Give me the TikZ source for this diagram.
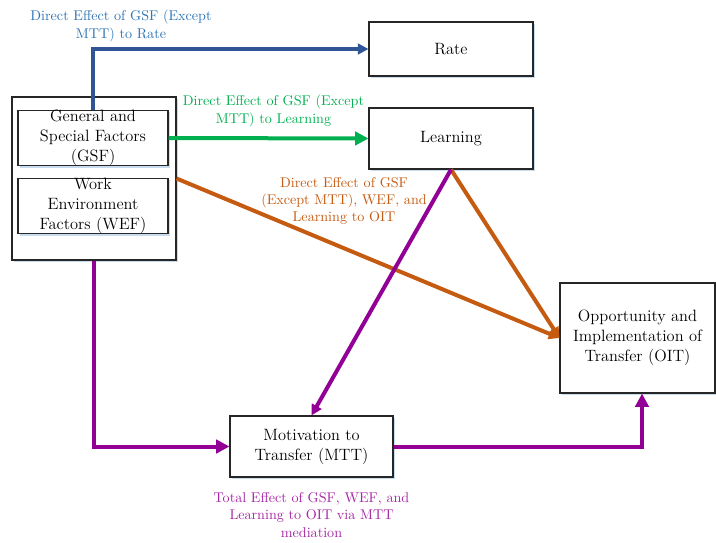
\documentclass[tikz,border=0pt]{standalone}
\usetikzlibrary{arrows.meta,shadows,calc}
\definecolor{rateline}{RGB}{47,85,151}
\definecolor{ratetext}{RGB}{46,116,181}
\definecolor{learngreen}{RGB}{0,176,80}
\definecolor{oitorange}{RGB}{197,90,17}
\definecolor{mttline}{RGB}{146,0,150}
\definecolor{mtttext}{RGB}{166,38,164}
\definecolor{shadowblue}{RGB}{200,220,240}
\begin{document}
\begin{tikzpicture}[x=0.75pt,y=-0.75pt,
  box/.style={draw=black!85,line width=0.8pt,fill=white,align=center,inner sep=0pt,
    font=\fontsize{12.3}{15}\selectfont,
    drop shadow={shadow xshift=1.2pt,shadow yshift=-1.5pt,fill=shadowblue,opacity=1}},
  effect/.style={align=center,font=\fontsize{10.6}{13}\selectfont},
  link/.style={line width=3pt},
  head/.style={-{Triangle[length=10pt,width=10pt]}},
  smallhead/.style={-{Triangle[length=8pt,width=8pt]}}]
\useasboundingbox (0,0) rectangle (716,542);

% factor boxes on the left
\node[box,minimum width=123pt,minimum height=122.25pt] (outer) at (94,178.5) {};
\node[box,minimum width=112.5pt,minimum height=40.5pt] (gsf) at (93,138)
  {General and\\Special Factors\\(GSF)};
\node[box,minimum width=112.5pt,minimum height=40.5pt] (wef) at (93,206)
  {Work\\Environment\\Factors (WEF)};

% outcome boxes
\node[box,minimum width=123pt,minimum height=40.5pt] (rate) at (451,49) {Rate};
\node[box,minimum width=123pt,minimum height=45.75pt] (learning) at (451,138.5) {Learning};
\node[box,minimum width=116.25pt,minimum height=82.5pt] (oit) at (637.5,338)
  {Opportunity and\\Implementation of\\Transfer (OIT)};
\node[box,minimum width=122.25pt,minimum height=45.75pt] (mtt) at (311.5,446.5)
  {Motivation to\\Transfer (MTT)};

\coordinate (oitin) at ($(oit.south)+(4.5,0)$);

% direct effects
\draw[link,rateline,line width=2.3pt,smallhead] (gsf.north) |- (rate.west);
\draw[link,learngreen,head] (gsf.east) -- (learning.west);
\draw[link,oitorange,smallhead] (outer.east) -- (oit.west);
\draw[link,oitorange,smallhead] (learning.south) -- (oit.west);

% mediated effects through MTT
\draw[link,mttline,head] (outer.south) |- (mtt.west);
\draw[link,mttline,smallhead] (learning.south) -- (mtt.north);
\draw[link,mttline,head] (mtt.east) -| (oitin);

% effect labels
\node[effect,text=ratetext] (lrate) at (121,26)
  {Direct Effect of GSF (Except\\MTT) to Rate};
\node[effect,text=learngreen] (llearn) at (273.5,111)
  {Direct Effect of GSF (Except\\MTT) to Learning};
\node[effect,text=oitorange] (loit) at (344,201)
  {Direct Effect of GSF\\(Except MTT), WEF, and\\Learning to OIT};
\node[effect,text=mtttext] (lmtt) at (311.5,515)
  {Total Effect of GSF, WEF, and\\Learning to OIT via MTT\\mediation};
\end{tikzpicture}
\end{document}
